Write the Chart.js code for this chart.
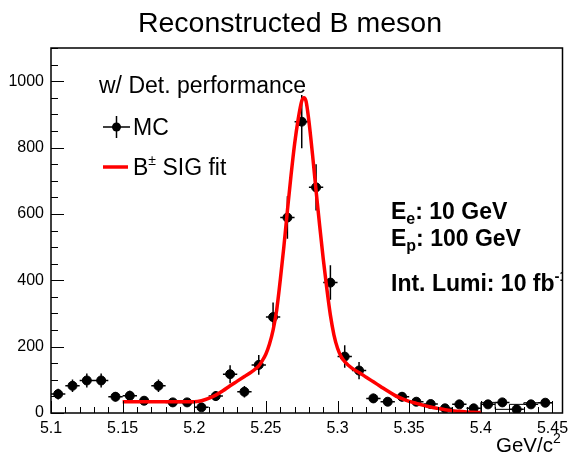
<!DOCTYPE html>
<html>
<head>
<meta charset="utf-8">
<title>Reconstructed B meson</title>
<script src="https://cdn.jsdelivr.net/npm/chart.js@4.4.1/dist/chart.umd.min.js"></script>
<style>
  html, body { margin: 0; padding: 0; background: #fff; }
  #wrap { position: relative; width: 568px; height: 459px; }
</style>
</head>
<body>
<div id="wrap"><canvas id="chartMass"></canvas></div>
<script>
const massBins = [5.105, 5.115, 5.125, 5.135, 5.145, 5.155, 5.165, 5.175, 5.185, 5.195,
                  5.205, 5.215, 5.225, 5.235, 5.245, 5.255, 5.265, 5.275, 5.285, 5.295,
                  5.305, 5.315, 5.325, 5.335, 5.345, 5.355, 5.365, 5.375, 5.385, 5.395,
                  5.405, 5.415, 5.425, 5.435, 5.445];
const mcCounts = [57, 82, 98, 98, 49, 52, 37, 82, 32, 32,
                  17, 51, 117, 64, 145, 289, 589, 878, 680, 393,
                  170, 128, 44, 34, 49, 34, 27, 14, 26, 14,
                  26, 32, 11, 26, 31];
const mcErrors = [16, 19, 21, 21, 14, 15, 12, 19, 11, 11,
                  8, 15, 27, 17, 30, 44, 64, 80, 70, 52,
                  34, 26, 14, 12, 14, 12, 11, 8, 10, 8,
                  10, 11, 7, 10, 11];
const binWidth = 0.01;

// curva del ajuste
const fitMass = [5.150, 5.160, 5.170, 5.180, 5.190, 5.200, 5.205, 5.210, 5.215, 5.220,
                 5.225, 5.230, 5.235, 5.240, 5.245, 5.2475, 5.250, 5.2525, 5.255, 5.2575,
                 5.260, 5.2625, 5.265, 5.2675, 5.270, 5.2725, 5.275, 5.2765, 5.278, 5.280,
                 5.2825, 5.285, 5.2875, 5.290, 5.2925, 5.295, 5.2975, 5.300, 5.3025, 5.305,
                 5.310, 5.315, 5.320, 5.325, 5.330, 5.335, 5.340, 5.345, 5.350, 5.355,
                 5.360, 5.365, 5.370, 5.375, 5.380, 5.385, 5.390, 5.395, 5.400];
const fitValues = [34, 34, 34, 34, 34, 34, 37, 44, 54, 67,
                   82, 96, 110, 124, 142, 158, 178, 208, 250, 310,
                   400, 500, 610, 715, 810, 885, 940, 950, 940, 880,
                   780, 670, 565, 465, 375, 295, 235, 195, 170, 155,
                   135, 122, 108, 94, 80, 66, 53, 43, 35, 29,
                   23, 18, 14, 10, 7, 5, 3, 2, 1.5];

// contorno del histograma visible a partir de 5.40
const outlineStart = 5.40;

const xTickLabels = ['5.1', '5.15', '5.2', '5.25', '5.3', '5.35', '5.4', '5.45'];
const yTickLabels = ['0', '200', '400', '600', '800', '1000'];

const FONT = '"Liberation Sans", Arial, Helvetica, sans-serif';
Chart.defaults.font.family = FONT;

function matchLabel(v, labels) {
  const hit = labels.find(l => Math.abs(parseFloat(l) - v) < 1e-6);
  return hit === undefined ? '' : hit;
}

function outlineData() {
  const pts = [];
  massBins.forEach((m, i) => {
    const lo = m - binWidth / 2;
    if (lo < outlineStart - 1e-9) return;
    if (pts.length === 0) pts.push({ x: lo, y: 0 });
    pts.push({ x: lo, y: mcCounts[i] });
  });
  const last = massBins[massBins.length - 1] + binWidth / 2;
  pts.push({ x: last, y: mcCounts[mcCounts.length - 1] });
  pts.push({ x: last, y: 0 });
  return pts;
}

function drawRich(ctx, x, y, parts) {
  let cx = x;
  parts.forEach(p => {
    ctx.font = (p.bold ? 'bold ' : '') + p.size + 'px ' + FONT;
    ctx.fillText(p.text, cx, y + (p.dy || 0));
    cx += ctx.measureText(p.text).width;
  });
}

/* barras de error (debajo de los marcadores) */
const errorBars = {
  id: 'errorBars',
  beforeDatasetsDraw(chart) {
    const { ctx, chartArea: a, scales: { x, y } } = chart;
    ctx.save();
    ctx.beginPath();
    ctx.rect(a.left, a.top, a.width, a.height);
    ctx.clip();
    ctx.strokeStyle = '#000';
    ctx.lineWidth = 1.5;
    ctx.beginPath();
    massBins.forEach((m, i) => {
      const px = x.getPixelForValue(m);
      const py = y.getPixelForValue(mcCounts[i]);
      ctx.moveTo(px, y.getPixelForValue(mcCounts[i] - mcErrors[i]));
      ctx.lineTo(px, y.getPixelForValue(mcCounts[i] + mcErrors[i]));
      ctx.moveTo(x.getPixelForValue(m - binWidth / 2), py);
      ctx.lineTo(x.getPixelForValue(m + binWidth / 2), py);
    });
    ctx.stroke();
    ctx.restore();
  }
};

/* marco y ticks hacia dentro, estilo ROOT */
const frameTicks = {
  id: 'frameTicks',
  afterDatasetsDraw(chart) {
    const { ctx, chartArea: a, scales: { x, y } } = chart;
    ctx.save();
    ctx.strokeStyle = '#000';
    ctx.lineWidth = 1;
    ctx.beginPath();
    x.ticks.forEach(t => {
      const px = Math.round(x.getPixelForValue(t.value)) + 0.5;
      const len = matchLabel(t.value, xTickLabels) ? 12 : 6;
      ctx.moveTo(px, a.bottom);
      ctx.lineTo(px, a.bottom - len);
    });
    y.ticks.forEach(t => {
      const py = Math.round(y.getPixelForValue(t.value)) + 0.5;
      const len = matchLabel(t.value, yTickLabels) ? 13 : 7;
      ctx.moveTo(a.left, py);
      ctx.lineTo(a.left + len, py);
    });
    ctx.stroke();
    ctx.lineWidth = 1.5;
    ctx.strokeRect(a.left, a.top, a.width, a.height);
    ctx.restore();
  }
};

/* título, leyenda y textos */
const annotations = {
  id: 'annotations',
  afterDraw(chart) {
    const { ctx, chartArea: a } = chart;
    ctx.save();
    ctx.fillStyle = '#000';
    ctx.textBaseline = 'alphabetic';

    ctx.textAlign = 'center';
    ctx.font = '28.5px ' + FONT;
    ctx.fillText('Reconstructed B meson', 290, 32);

    ctx.textAlign = 'left';
    ctx.font = '23px ' + FONT;
    ctx.fillText('w/ Det. performance', 99, 93);

    // MC
    ctx.strokeStyle = '#000';
    ctx.lineWidth = 1.5;
    ctx.beginPath();
    ctx.moveTo(103, 127); ctx.lineTo(130, 127);
    ctx.moveTo(116.5, 116); ctx.lineTo(116.5, 138);
    ctx.stroke();
    ctx.beginPath();
    ctx.arc(116.5, 127, 4.5, 0, Math.PI * 2);
    ctx.fill();
    ctx.font = '23px ' + FONT;
    ctx.fillText('MC', 133, 135);

    // ajuste
    ctx.strokeStyle = '#ff0000';
    ctx.lineWidth = 3.5;
    ctx.beginPath();
    ctx.moveTo(103, 167); ctx.lineTo(128, 167);
    ctx.stroke();
    drawRich(ctx, 133, 175, [
      { text: 'B', size: 23 },
      { text: '\u00b1', size: 14, dy: -10 },
      { text: ' SIG fit', size: 23 }
    ]);

    // texto de condiciones
    ctx.beginPath();
    ctx.rect(a.left, a.top, a.width, a.height);
    ctx.clip();
    drawRich(ctx, 391, 219, [
      { text: 'E', size: 23, bold: true },
      { text: 'e', size: 16, bold: true, dy: 5 },
      { text: ': 10 GeV', size: 23, bold: true }
    ]);
    drawRich(ctx, 391, 246, [
      { text: 'E', size: 23, bold: true },
      { text: 'p', size: 16, bold: true, dy: 5 },
      { text: ': 100 GeV', size: 23, bold: true }
    ]);
    drawRich(ctx, 391, 291, [
      { text: 'Int. Lumi: 10 fb', size: 23, bold: true },
      { text: '-1', size: 15, bold: true, dy: -10 }
    ]);
    ctx.restore();

    // título del eje X
    ctx.save();
    ctx.fillStyle = '#000';
    ctx.textAlign = 'left';
    drawRich(ctx, 496, 452, [
      { text: 'GeV/c', size: 20.5 },
      { text: '2', size: 14, dy: -9 }
    ]);
    ctx.restore();
  }
};

new Chart(document.getElementById('chartMass'), {
  type: 'scatter',
  data: {
    datasets: [
      {
        label: 'B\u00b1 SIG fit',
        type: 'line',
        data: fitMass.map((m, i) => ({ x: m, y: fitValues[i] })),
        borderColor: '#ff0000',
        borderWidth: 3.5,
        pointRadius: 0,
        cubicInterpolationMode: 'monotone',
        fill: false,
        order: 0
      },
      {
        label: 'MC',
        data: massBins.map((m, i) => ({ x: m, y: mcCounts[i] })),
        backgroundColor: '#000',
        borderColor: '#000',
        pointRadius: 4.5,
        pointHoverRadius: 4.5,
        order: 1
      },
      {
        label: 'outline',
        type: 'line',
        stepped: 'after',
        data: outlineData(),
        borderColor: '#000',
        borderWidth: 1,
        pointRadius: 0,
        fill: false,
        order: 2
      }
    ]
  },
  options: {
    responsive: true,
    maintainAspectRatio: false,
    animation: false,
    layout: { padding: { top: 48, right: 5, left: 0, bottom: 0 } },
    plugins: {
      legend: { display: false },
      tooltip: { enabled: false },
      title: { display: false }
    },
    scales: {
      x: {
        type: 'linear',
        min: 5.1,
        max: 5.457,
        grid: { display: false, drawTicks: false },
        border: { display: false },
        ticks: {
          stepSize: 0.01,
          autoSkip: false,
          includeBounds: false,
          maxRotation: 0,
          padding: 6,
          color: '#000',
          font: { size: 16 },
          callback: v => matchLabel(v, xTickLabels)
        },
        afterFit(s) { s.height = 46; s.paddingLeft = 0; s.paddingRight = 0; }
      },
      y: {
        min: 0,
        max: 1100,
        grid: { display: false, drawTicks: false },
        border: { display: false },
        ticks: {
          stepSize: 50,
          autoSkip: false,
          includeBounds: false,
          padding: 7,
          color: '#000',
          font: { size: 16 },
          callback: v => matchLabel(v, yTickLabels)
        },
        afterFit(s) { s.width = 51; s.paddingTop = 0; s.paddingBottom = 0; }
      }
    }
  },
  plugins: [errorBars, frameTicks, annotations]
});
</script>
</body>
</html>
